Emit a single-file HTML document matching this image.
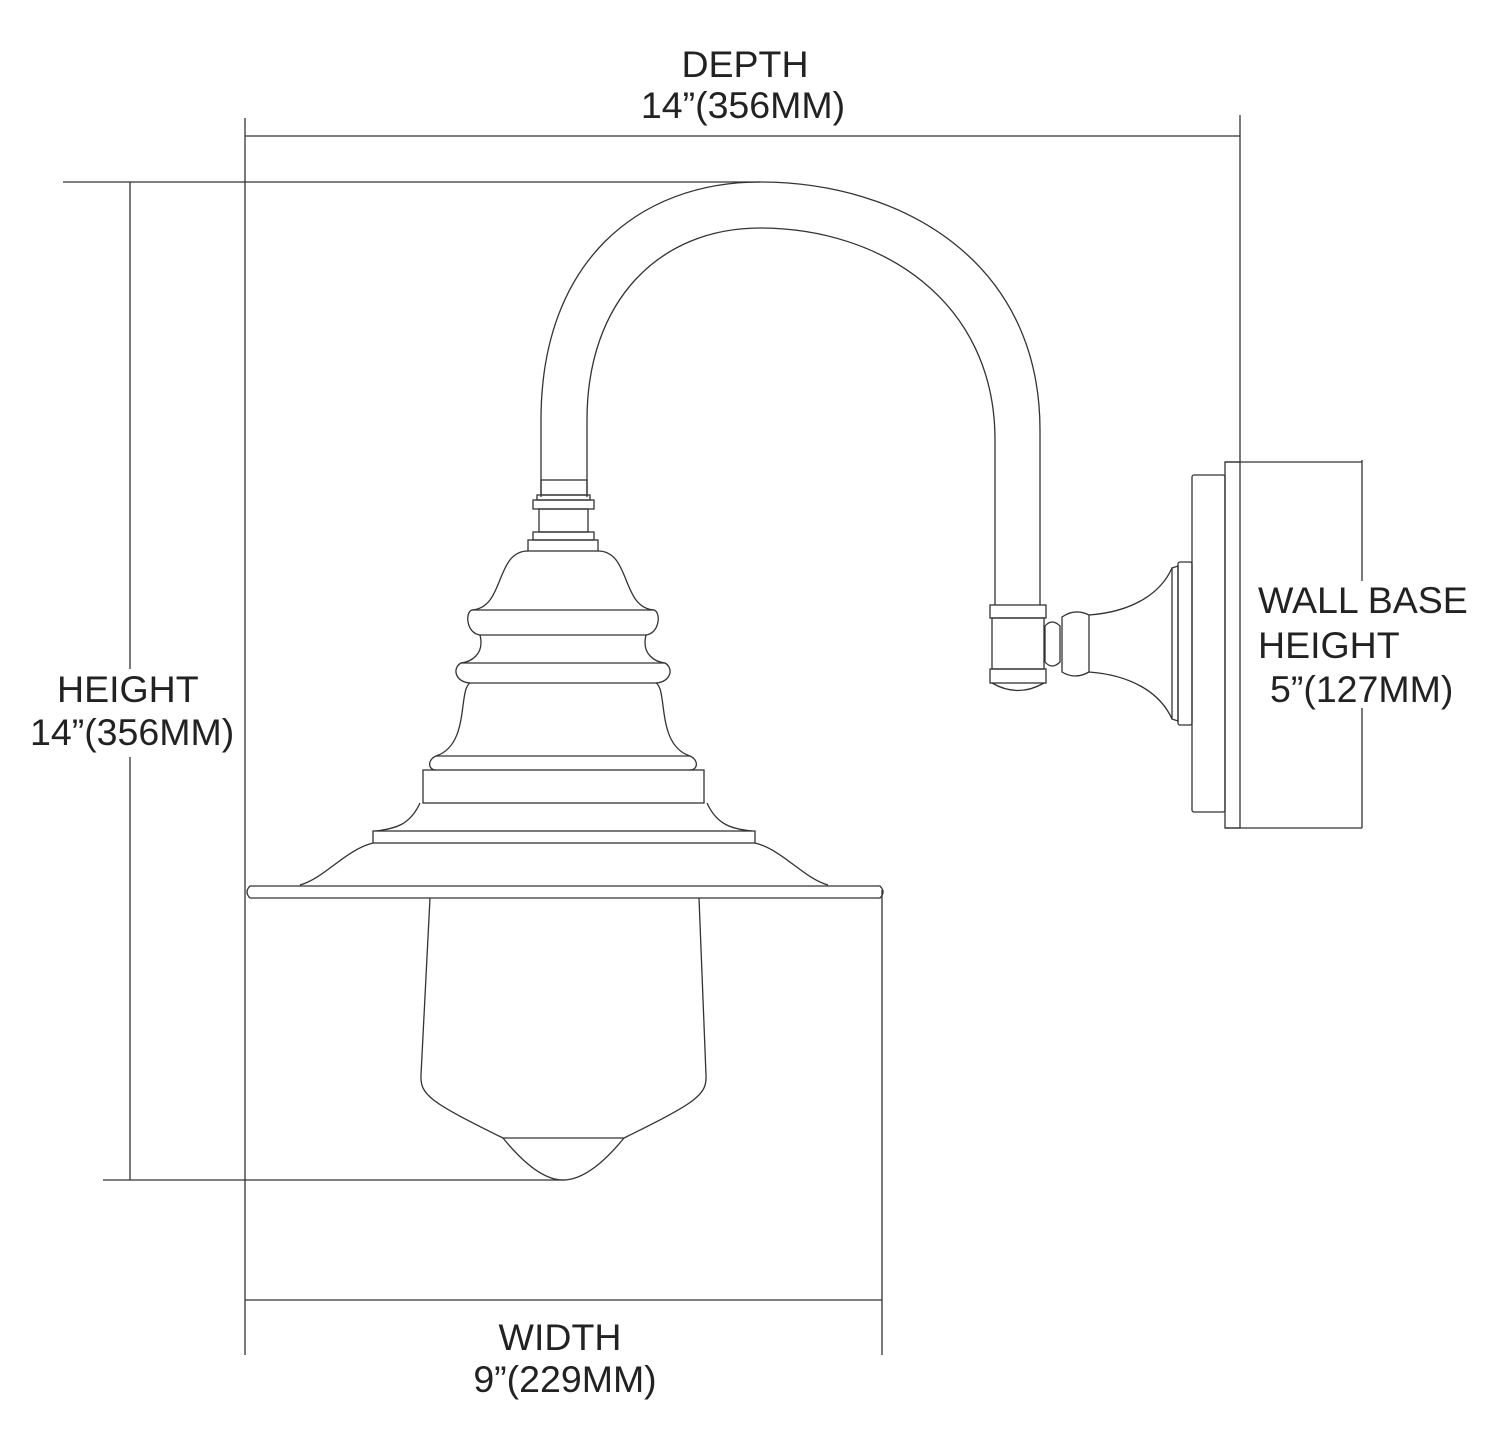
<!DOCTYPE html>
<html><head><style>html,body{margin:0;padding:0;background:#fff}svg{display:block}</style></head><body>
<svg width="1500" height="1449" viewBox="0 0 1500 1449" xmlns="http://www.w3.org/2000/svg">
<g fill="none" stroke="#333" stroke-width="1.3">
<line x1="245" y1="136" x2="1240" y2="136"/>
<line x1="245" y1="118" x2="245" y2="1355"/>
<line x1="1240" y1="115" x2="1240" y2="462"/>
<line x1="130" y1="182" x2="130" y2="669"/>
<line x1="130" y1="757" x2="130" y2="1180"/>
<line x1="63" y1="182" x2="760" y2="182"/>
<line x1="103" y1="1180" x2="565" y2="1180"/>
<line x1="245" y1="1300" x2="882" y2="1300"/>
<line x1="882" y1="890" x2="882" y2="1355"/>
<line x1="1362" y1="460" x2="1362" y2="581"/>
<line x1="1362" y1="708" x2="1362" y2="828"/>
<line x1="1225" y1="462" x2="1362" y2="462"/>
<line x1="1225" y1="828" x2="1362" y2="828"/>
<rect x="1225" y="462" width="15" height="366"/>
<rect x="1192" y="475" width="33" height="337" rx="2"/>
<rect x="1178" y="562" width="14" height="163" rx="2"/>
<path d="M1172,568 L1178,566 L1178,721 L1172,719 Z"/>
<path d="M1089,615 C1130,612 1160,595 1172,568 M1089,672 C1130,675 1160,692 1172,719"/>
<path d="M1062,617 Q1075,608 1089,615 L1089,672 Q1075,680 1062,672 Z"/>
<path d="M1045,626 Q1052,618 1060,626 L1060,662 Q1052,670 1045,662 Z"/>
<rect x="990" y="605" width="56" height="13"/>
<rect x="992" y="618" width="52" height="51"/>
<rect x="990" y="669" width="56" height="14"/>
<path d="M992,683 Q1018,698 1044,683"/>
<path d="M541,497 L541,420 C541,260 640,182 760,182 C900,182 1040,260 1040,430 L1040,605"/>
<path d="M587,497 L587,420 C587,300 660,228 760,228 C880,228 995,300 995,440 L995,605"/>
<rect x="541" y="480" width="46" height="15"/>
<rect x="537" y="495" width="53" height="5"/>
<rect x="533" y="500" width="61" height="9"/>
<rect x="539" y="509" width="49" height="23"/>
<rect x="533" y="532" width="61" height="8"/>
<rect x="528" y="540" width="70" height="11"/>
<path d="M528,551 C495,551 505,608 472,610 C465,612 466,633 480,635 M598,551 C631,551 621,608 654,610 C661,612 660,633 646,635"/>
<path d="M472,610 L654,610 M480,635 L646,635"/>
<path d="M480,635 C485,655 470,662 461,663 C452,668 455,682 470,683 M646,635 C641,655 656,662 665,663 C674,668 671,682 656,683"/>
<path d="M461,663 L665,663 M470,683 L656,683"/>
<path d="M470,683 C458,690 470,745 436,756 C427,760 428,770 436,770 M656,683 C668,690 656,745 690,756 C699,760 698,770 690,770"/>
<path d="M436,756 L690,756"/>
<rect x="423" y="770" width="281" height="33"/>
<path d="M420,803 C410,825 395,829 375,831 M707,803 C717,825 732,829 752,831"/>
<rect x="373" y="831" width="382" height="12"/>
<path d="M373,843 C345,850 325,878 300,885 M755,843 C783,850 803,878 828,885"/>
<path d="M250,886 L880,886 Q886,892 880,898 L250,898 Q244,892 250,886 Z"/>
<path d="M430,898 L421,1075 C420,1095 430,1102 503,1138 L624,1138 C697,1102 707,1095 706,1075 L699,898"/>
<path d="M503,1138 C525,1165 545,1180 563,1180 C582,1180 602,1165 624,1138"/>
</g>
<g font-family="'Liberation Sans', sans-serif" font-size="37.5" fill="#222">
<text x="745" y="77" text-anchor="middle">DEPTH</text>
<text x="743" y="118" text-anchor="middle">14”(356MM)</text>
<text x="57" y="702">HEIGHT</text>
<text x="30" y="745">14”(356MM)</text>
<text x="1258" y="613">WALL BASE</text>
<text x="1258" y="658">HEIGHT</text>
<text x="1270" y="702">5”(127MM)</text>
<text x="560" y="1350" text-anchor="middle">WIDTH</text>
<text x="565" y="1392" text-anchor="middle">9”(229MM)</text>
</g>
</svg>
</body></html>
